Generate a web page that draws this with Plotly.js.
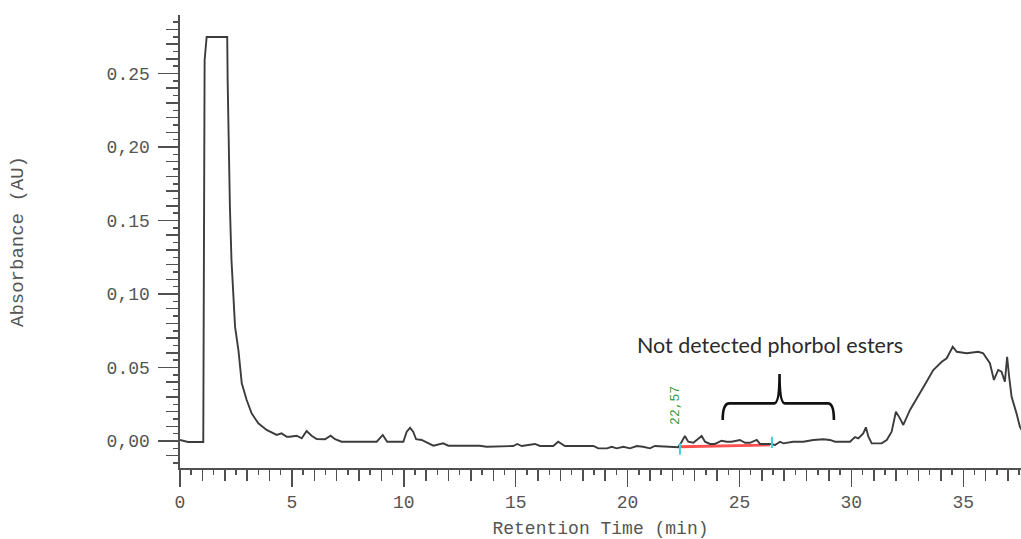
<!DOCTYPE html>
<html>
<head>
<meta charset="utf-8">
<script src="https://cdn.plot.ly/plotly-3.0.1.min.js"></script>
<style>html,body{margin:0;padding:0;background:#fff;}#chart{width:1021px;height:539px;}</style>
</head>
<body>
<div id="chart"></div>
<script>
// Chromatogram trace (retention time in min, absorbance in AU)
var timeMin = [0,0.36,1.04,1.05,1.10,1.19,2.11,2.13,2.17,2.23,2.30,2.38,2.46,2.61,2.76,2.98,3.20,3.50,3.87,4.32,4.54,4.77,4.91,5.21,5.44,5.66,5.88,6.11,6.48,6.73,6.93,7.22,8.79,9.06,9.26,9.98,10.13,10.28,10.42,10.55,10.80,11.02,11.32,11.76,11.99,13.40,13.70,14.89,15.07,15.27,15.86,16.09,16.68,16.90,17.20,18.47,18.69,19.08,19.29,19.51,19.81,20.11,20.41,20.69,21.00,21.22,22.26,22.42,22.56,22.71,22.94,23.09,23.31,23.46,23.68,23.90,24.20,24.43,24.65,25.02,25.25,25.47,25.77,25.92,26.36,26.59,26.81,26.96,27.40,27.85,28.30,28.74,29.04,29.27,29.94,30.16,30.31,30.53,30.65,30.76,30.91,31.35,31.58,31.80,31.99,32.17,32.32,32.62,33.07,33.36,33.66,34.04,34.26,34.53,34.71,35.15,35.67,35.89,36.19,36.37,36.56,36.71,36.86,36.96,37.05,37.16,37.38,37.53,37.75];
var absorbance = [0.0007,-0.0007,-0.0007,0.0714,0.259,0.2748,0.2748,0.2442,0.1946,0.1592,0.1231,0.0959,0.0778,0.0619,0.0393,0.0279,0.0188,0.0120,0.0075,0.0041,0.0052,0.0029,0.0029,0.0036,0.0018,0.0068,0.0036,0.0014,0.0012,0.0036,0.0012,-0.0005,-0.0005,0.0041,-0.0005,-0.0005,0.0063,0.0090,0.0063,0.0012,0.0007,-0.0009,-0.0032,-0.0016,-0.0032,-0.0032,-0.0039,-0.0034,-0.0020,-0.0034,-0.0020,-0.0034,-0.0034,-0.0005,-0.0034,-0.0034,-0.0050,-0.0050,-0.0039,-0.0050,-0.0039,-0.0050,-0.0034,-0.0039,-0.0050,-0.0034,-0.0043,-0.0005,0.0034,-0.0005,-0.0012,0.0007,0.0034,-0.0005,-0.0020,-0.0020,0.0002,-0.0005,-0.0005,0.0007,-0.0012,-0.0012,0.0007,-0.0020,-0.0020,-0.0027,-0.0005,-0.0016,-0.0005,-0.0005,0.0007,0.0012,0.0007,-0.0005,-0.0005,0.0027,0.0018,0.0052,0.0093,0.0029,-0.0016,-0.0016,0.0007,0.0063,0.0199,0.0154,0.0109,0.0211,0.0324,0.0403,0.0483,0.0539,0.0563,0.0641,0.0607,0.0597,0.0607,0.0597,0.0529,0.0415,0.0483,0.0471,0.0403,0.0573,0.0437,0.0301,0.0188,0.0097,0.0034];

// Integration baseline and its start/end marks
var baselineX = [22.34, 26.36];
var baselineY = [-0.0039, -0.0027];
var markX = [22.34, 26.45];
var markY = [-0.0054, -0.0010];

// Peak label
var peakTime = 22.16, peakLabelY = 0.0245, peakLabel = "22,57";

// Axis ticks
var yTickVals = [0, 0.05, 0.10, 0.15, 0.20, 0.25];
var yTickText = ["0,00", "0.05", "0,10", "0.15", "0,20", "0.25"];
var xTickVals = [0, 5, 10, 15, 20, 25, 30, 35];
var xTickText = ["0", "5", "10", "15", "20", "25", "30", "35"];

var xRange = [0, 37.58];
var yRange = [-0.01837, 0.2898];

var mono = "Liberation Mono, Courier New, monospace";
var grey = "#555555";
var axisCol = "#505050";

var traces = [
  {x: baselineX, y: baselineY, mode: "lines", line: {color: "#ff5050", width: 2.8}, hoverinfo: "skip", showlegend: false},
  {x: timeMin, y: absorbance, mode: "lines", line: {color: "#3c3c3c", width: 1.9}, showlegend: false},
  {x: markX, y: markY, mode: "markers", marker: {symbol: "line-ns-open", size: 8, color: "#40d0d8", line: {color: "#40d0d8", width: 2}}, showlegend: false, hoverinfo: "skip"},
  // invisible copies that only activate the overlay axes carrying the smallest ticks
  {x: timeMin, y: absorbance, xaxis: "x2", yaxis: "y", mode: "lines", opacity: 0, line: {width: 0}, showlegend: false, hoverinfo: "skip"},
  {x: timeMin, y: absorbance, xaxis: "x", yaxis: "y2", mode: "lines", opacity: 0, line: {width: 0}, showlegend: false, hoverinfo: "skip"}
];

var layout = {
  width: 1021, height: 539,
  margin: {l: 180, r: 0, t: 15, b: 71, pad: 0},
  paper_bgcolor: "#ffffff", plot_bgcolor: "#ffffff",
  showlegend: false,
  xaxis: {
    range: xRange, tickvals: xTickVals, ticktext: xTickText,
    ticks: "outside", ticklen: 17, tickwidth: 1.5, tickcolor: axisCol,
    minor: {dtick: 1, tick0: 0, ticklen: 11, tickwidth: 1.5, tickcolor: axisCol, ticks: "outside"},
    showline: true, linecolor: axisCol, linewidth: 1.6,
    showgrid: false, zeroline: false,
    tickfont: {family: mono, size: 18, color: grey},
    title: {text: "Retention Time (min)", font: {family: mono, size: 18, color: grey}, standoff: 12}
  },
  xaxis2: {
    overlaying: "x", anchor: "y", range: xRange, dtick: 0.5, tick0: 0,
    ticks: "outside", ticklen: 6, tickwidth: 1.5, tickcolor: axisCol,
    showticklabels: false, showline: false, showgrid: false, zeroline: false
  },
  yaxis: {
    range: yRange, tickvals: yTickVals, ticktext: yTickText,
    ticks: "outside", ticklen: 20, tickwidth: 1.5, tickcolor: axisCol,
    minor: {dtick: 0.01, tick0: 0, ticklen: 12, tickwidth: 1.5, tickcolor: axisCol, ticks: "outside"},
    showline: true, linecolor: axisCol, linewidth: 1.6,
    showgrid: false, zeroline: false,
    ticklabelstandoff: 5,
    tickfont: {family: mono, size: 18, color: grey},
    title: {text: "Absorbance (AU)", font: {family: mono, size: 19, color: grey}, standoff: 78}
  },
  yaxis2: {
    overlaying: "y", anchor: "x", side: "left", range: yRange, dtick: 0.005, tick0: 0,
    ticks: "outside", ticklen: 6, tickwidth: 1.5, tickcolor: axisCol,
    showticklabels: false, showline: false, showgrid: false, zeroline: false
  },
  annotations: [
    {x: 26.36, y: 0.0653, xref: "x", yref: "y", text: "Not detected phorbol esters", showarrow: false,
     font: {family: "Lato, Noto Sans, sans-serif", size: 21.5, color: "#2b2b2b"}},
    {x: peakTime, y: peakLabelY, xref: "x", yref: "y", text: peakLabel, showarrow: false, textangle: -90,
     font: {family: mono, size: 13, color: "#3a9a3a"}}
  ],
  shapes: [
    {type: "path", xref: "x", yref: "y",
     path: "M 24.25,0.0143 Q 24.25,0.0256 24.55,0.0256 L 26.55,0.0256 Q 26.79,0.0256 26.79,0.0456 Q 26.79,0.0256 27.03,0.0256 L 28.95,0.0256 Q 29.22,0.0256 29.22,0.0143",
     line: {color: "#111111", width: 2.6}}
  ]
};

Plotly.newPlot("chart", traces, layout, {staticPlot: true, displayModeBar: false});
</script>
</body>
</html>
